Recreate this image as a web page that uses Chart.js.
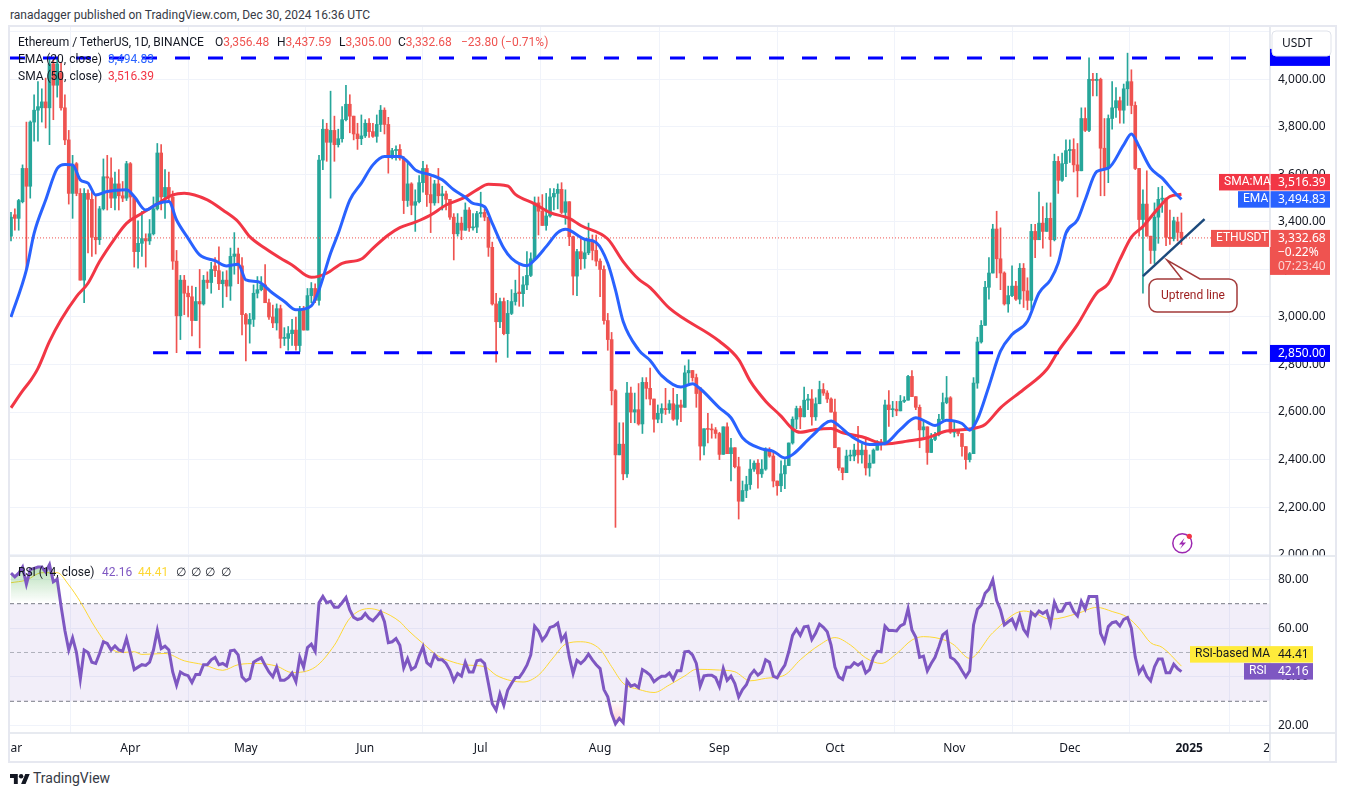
<!DOCTYPE html>
<html>
<head>
<meta charset="utf-8">
<title>Ethereum / TetherUS</title>
<script src="https://cdn.jsdelivr.net/npm/chart.js@4"></script>
<style>
  html, body { margin: 0; background: #fff; }
  body { width: 1345px; height: 796px; position: relative; overflow: hidden;
         font-family: Roboto, sans-serif; font-size: 12px; color: #131722; }
  #frame { position: absolute; left: 8px; top: 25px; width: 1325px; height: 734px; border: 2px solid #e6e8f0; }
  #chart { position: absolute; left: 10px; top: 27px; }
  .t { position: absolute; white-space: pre; line-height: 16px; }
  .red { color: #ef5350; } .blue { color: #2962ff; } .sma { color: #f23645; }
  .purple { color: #7e57c2; } .yellow { color: #fdd835; }
  svg { position: absolute; }
</style>
</head>
<body>
<div id="frame"></div>
<canvas id="chart" width="1325" height="734"></canvas>

<div class="t" style="left:10px;top:7px;color:#363a45">ranadagger published on TradingView.com, Dec 30, 2024 16:36 UTC</div>
<div class="t" style="left:18px;top:34px">Ethereum / TetherUS, 1D, BINANCE</div>
<div class="t" style="left:215px;top:34px">O<span class="red">3,356.48</span></div>
<div class="t" style="left:277px;top:34px">H<span class="red">3,437.59</span></div>
<div class="t" style="left:339px;top:34px">L<span class="red">3,305.00</span></div>
<div class="t" style="left:398px;top:34px">C<span class="red">3,332.68</span></div>
<div class="t red" style="left:461px;top:34px">−23.80 (−0.71%)</div>
<div class="t" style="left:18px;top:51px">EMA (20, close)</div>
<div class="t blue" style="left:108px;top:51px">3,494.83</div>
<div class="t" style="left:18px;top:68px">SMA (50, close)</div>
<div class="t sma" style="left:108px;top:68px">3,516.39</div>
<div class="t" style="left:18px;top:564px">RSI (14, close)</div>
<div class="t purple" style="left:102px;top:564px">42.16</div>
<div class="t yellow" style="left:138px;top:564px">44.41</div>
<div class="t" style="left:176px;top:564px">∅</div>
<div class="t" style="left:191px;top:564px">∅</div>
<div class="t" style="left:205px;top:564px">∅</div>
<div class="t" style="left:221px;top:564px">∅</div>

<svg style="left:10px;top:772px" width="20" height="14" viewBox="0 3 36 20"><path fill="#131722" d="M14 22H7V11H0V4h14v18zM28 22h-8l7.5-18h8L28 22z"/><circle fill="#131722" cx="20" cy="8" r="4"/></svg>
<div class="t" style="left:33px;top:770px;font-size:14px;color:#363a45">TradingView</div>

<svg style="left:1170px;top:531px" width="26" height="26" viewBox="0 0 26 26">
  <circle cx="12.3" cy="12.3" r="9.5" fill="#fff" stroke="#9c27b0" stroke-width="1.5"/>
  <path d="M14.5 7 L9 13.5 H12.5 L10 18 L16 11.5 H12.5 Z" fill="#9c27b0"/>
  <circle cx="19.3" cy="5.3" r="2.6" fill="#f23645"/>
</svg>

<script>
// Daily candles, 1 Mar 2024 (day 0) to 30 Dec 2024 (day 304)
const opens = [3340,3430,3415,3485,3625,3550,3820,3870,3880,3905,3880,4065,3975,4025,3880,3745,3520,3645,3520,3155,3520,3495,3335,3325,3455,3590,3585,3500,3560,3510,3500,3645,3505,3275,3310,3330,3320,3350,3455,3690,3505,3545,3505,3235,3005,3155,3100,3085,2985,3065,3055,3155,3145,3215,3195,3140,3155,3130,3255,3265,3215,3010,2970,2990,3100,3115,3135,3060,3000,2975,3035,2910,2910,2930,2945,2880,3030,2945,3090,3120,3070,3660,3790,3735,3785,3725,3750,3830,3895,3845,3770,3750,3762,3815,3780,3760,3810,3870,3810,3670,3700,3705,3668,3490,3560,3470,3485,3565,3625,3515,3480,3560,3510,3518,3495,3420,3350,3395,3365,3450,3375,3378,3435,3440,3420,3293,3055,2980,3065,2930,3015,3065,3105,3098,3135,3175,3245,3480,3445,3385,3425,3505,3520,3537,3440,3485,3338,3172,3275,3245,3270,3320,3280,3235,3200,2985,2905,2690,2420,2465,2340,2680,2600,2610,2550,2725,2700,2655,2570,2595,2615,2610,2635,2570,2630,2620,2765,2775,2745,2702,2457,2530,2527,2525,2510,2422,2538,2425,2450,2370,2225,2270,2295,2360,2385,2340,2360,2443,2415,2310,2290,2340,2375,2470,2570,2615,2580,2650,2655,2580,2635,2695,2680,2655,2600,2450,2365,2345,2415,2415,2440,2420,2440,2365,2385,2440,2475,2470,2630,2610,2612,2605,2645,2650,2750,2665,2620,2525,2538,2430,2485,2505,2570,2640,2660,2515,2525,2510,2455,2400,2425,2722,2895,2965,3125,3185,3370,3245,3185,3055,3090,3130,3075,3205,3110,3070,3360,3325,3395,3360,3415,3325,3655,3575,3645,3700,3705,3640,3615,3835,3785,4000,3995,4000,3710,3625,3835,3880,3910,3870,3960,3990,3890,3625,3410,3475,3340,3280,3420,3495,3500,3335,3330,3400,3356.48];
const highs = [3440,3455,3495,3640,3820,3825,3935,3990,3960,4005,4095,4085,4090,4070,3935,3785,3680,3650,3540,3540,3535,3535,3515,3465,3665,3680,3670,3610,3620,3570,3655,3650,3510,3405,3445,3350,3410,3505,3730,3725,3620,3610,3530,3280,3175,3175,3130,3130,3125,3200,3175,3190,3230,3250,3295,3190,3195,3290,3355,3290,3250,3015,3015,3135,3170,3170,3220,3075,3050,3055,3050,2955,2960,2990,3000,3045,3045,3120,3145,3140,3680,3830,3815,3950,3845,3790,3885,3975,3935,3845,3815,3850,3830,3835,3815,3850,3890,3880,3840,3710,3720,3725,3675,3655,3565,3535,3595,3655,3640,3590,3575,3625,3550,3530,3495,3435,3435,3420,3480,3460,3435,3445,3525,3455,3420,3315,3100,3080,3080,3070,3115,3155,3220,3170,3275,3270,3505,3505,3515,3520,3540,3540,3560,3565,3535,3485,3340,3285,3330,3325,3395,3345,3345,3245,3215,3015,2935,2695,2555,2555,2725,2705,2680,2720,2745,2745,2785,2655,2630,2635,2700,2650,2700,2675,2650,2795,2820,2775,2760,2702,2530,2595,2550,2535,2515,2538,2555,2490,2450,2410,2310,2330,2400,2395,2400,2400,2450,2450,2430,2310,2395,2400,2470,2580,2625,2625,2705,2675,2695,2660,2730,2720,2690,2660,2655,2450,2365,2440,2440,2465,2540,2465,2495,2420,2445,2480,2485,2650,2690,2645,2645,2670,2665,2755,2775,2665,2630,2560,2538,2510,2515,2590,2680,2750,2665,2560,2525,2510,2455,2430,2745,2915,2985,3150,3250,3390,3445,3375,3190,3130,3215,3150,3225,3225,3165,3390,3390,3525,3465,3480,3480,3685,3675,3690,3745,3745,3750,3730,3880,3880,4090,4025,4025,4005,3835,3850,3990,3965,3925,3980,4110,4040,3905,3625,3535,3615,3340,3480,3545,3550,3500,3450,3420,3420,3437.59];
const lows = [3320,3365,3365,3480,3200,3500,3740,3740,3820,3795,3725,3830,3925,3870,3725,3475,3415,3510,3155,3060,3270,3255,3265,3305,3450,3450,3460,3450,3450,3485,3490,3415,3210,3205,3255,3210,3305,3345,3450,3450,3415,3490,3200,2850,2905,3010,3000,2920,2985,2870,3050,3120,3100,3170,3115,3040,3085,3070,3180,3140,2925,2815,2890,2960,3080,3110,3060,2990,2955,2945,2870,2880,2860,2880,2860,2855,2945,2945,3060,3060,3050,3620,3655,3500,3655,3715,3735,3825,3775,3745,3705,3725,3755,3755,3755,3735,3780,3770,3605,3665,3660,3660,3435,3465,3430,3360,3480,3525,3465,3355,3470,3480,3450,3450,3410,3240,3340,3325,3365,3360,3365,3355,3420,3405,3255,3050,2810,2955,2925,2830,3010,3050,3045,3045,3115,3170,3240,3345,3385,3365,3420,3450,3455,3435,3390,3300,3093,3090,3200,3205,3262,3240,3215,3085,2970,2860,2630,2115,2420,2315,2325,2555,2555,2545,2510,2655,2630,2515,2555,2555,2590,2595,2565,2545,2560,2620,2720,2730,2620,2398,2420,2470,2490,2490,2400,2422,2425,2310,2365,2150,2225,2240,2275,2350,2280,2325,2355,2410,2285,2250,2265,2278,2375,2465,2530,2530,2580,2610,2545,2565,2635,2670,2640,2600,2450,2355,2315,2345,2395,2395,2385,2385,2335,2330,2385,2440,2440,2470,2540,2580,2585,2605,2640,2650,2665,2610,2450,2495,2380,2430,2480,2500,2565,2635,2510,2495,2500,2415,2360,2390,2425,2700,2890,2965,3075,3185,3165,3115,3050,3020,3085,3070,3055,3040,3030,3030,3250,3325,3290,3360,3255,3320,3520,3570,3590,3650,3610,3505,3615,3780,3780,3930,3930,3510,3510,3565,3790,3840,3815,3815,3890,3855,3620,3340,3100,3340,3225,3225,3310,3440,3300,3305,3320,3320,3305];
const closes = [3420,3415,3490,3625,3550,3820,3870,3885,3905,3880,4065,3975,4065,3880,3745,3520,3640,3520,3155,3520,3495,3335,3325,3455,3590,3585,3500,3560,3510,3500,3645,3505,3275,3310,3330,3320,3350,3455,3690,3505,3545,3505,3235,3005,3155,3100,3085,2985,3065,3055,3155,3145,3200,3195,3140,3155,3130,3255,3265,3215,3010,2970,2990,3100,3115,3135,3060,3000,2975,3035,2910,2910,2930,2945,2880,3030,2945,3090,3120,3070,3660,3790,3735,3785,3725,3750,3830,3895,3845,3770,3750,3762,3815,3780,3760,3810,3870,3810,3670,3700,3705,3668,3490,3560,3470,3485,3565,3625,3515,3480,3560,3510,3518,3495,3420,3350,3395,3365,3450,3375,3378,3435,3440,3420,3293,3055,2980,3065,2930,3015,3065,3100,3098,3135,3175,3245,3480,3445,3385,3425,3505,3520,3537,3440,3485,3338,3172,3275,3245,3270,3320,3280,3235,3200,2985,2905,2690,2420,2465,2340,2680,2600,2610,2550,2725,2700,2655,2570,2595,2615,2610,2635,2570,2630,2620,2765,2775,2745,2678,2457,2530,2527,2525,2510,2422,2538,2425,2450,2370,2225,2270,2295,2360,2385,2340,2360,2443,2415,2310,2290,2340,2375,2470,2570,2615,2580,2650,2655,2580,2635,2695,2680,2655,2600,2450,2365,2345,2415,2415,2440,2420,2440,2365,2385,2440,2475,2470,2630,2610,2612,2605,2645,2650,2750,2665,2620,2525,2538,2430,2485,2505,2570,2640,2660,2515,2525,2510,2455,2400,2425,2722,2895,2965,3125,3185,3370,3245,3185,3055,3090,3130,3075,3205,3110,3070,3360,3325,3395,3360,3415,3325,3655,3575,3645,3700,3705,3640,3615,3835,3785,4000,3995,4000,3710,3625,3835,3880,3910,3870,3960,3990,3890,3625,3410,3475,3340,3280,3420,3495,3500,3335,3330,3405,3356,3332.68];

// EMA 20 / SMA 50
const emaDays = [0,4,6,9,12,14,16,18,20,22,25,30,32,35,38,41,43,46,49,53,56,59,61,64,68,71,74,78,80,83,85,88,91,94,97,101,103,105,109,112,115,118,120,123,125,128,130,134,136,139,142,144,149,152,155,157,159,163,166,169,174,177,179,184,187,190,195,198,201,203,208,213,215,218,223,227,231,235,238,240,243,247,249,251,254,257,260,264,267,270,272,274,277,279,282,285,289,291,293,296,299,302,304];
const emaValues = [3000,3198,3352,3492,3625,3642,3640,3577,3563,3513,3528,3535,3507,3450,3476,3486,3408,3331,3261,3237,3215,3222,3156,3149,3100,3065,3030,3047,3114,3268,3352,3492,3563,3640,3675,3675,3654,3619,3598,3577,3535,3504,3478,3464,3394,3289,3247,3216,3240,3296,3355,3369,3327,3313,3226,3114,2981,2862,2817,2753,2705,2719,2698,2618,2576,2492,2445,2435,2407,2421,2499,2562,2543,2501,2464,2468,2527,2576,2557,2543,2566,2552,2524,2569,2709,2856,2926,2982,3101,3157,3227,3353,3409,3493,3612,3626,3724,3770,3717,3626,3584,3528,3494.83];
const smaDays = [0,3,5,7,10,13,17,20,23,27,30,34,39,42,45,51,55,59,62,66,70,73,78,82,86,91,94,98,101,105,109,113,118,121,124,129,131,136,140,145,148,155,159,163,166,171,184,189,192,196,200,203,205,209,213,216,221,227,233,238,243,249,253,257,263,269,272,277,282,285,288,291,294,298,301,304];
const smaValues = [2618,2689,2731,2784,2897,2988,3086,3142,3233,3331,3394,3436,3486,3514,3521,3493,3450,3401,3338,3289,3247,3219,3167,3184,3226,3244,3289,3345,3376,3399,3429,3471,3504,3535,3558,3551,3516,3476,3439,3415,3385,3328,3233,3159,3124,3037,2898,2821,2730,2646,2583,2529,2515,2527,2531,2513,2496,2466,2478,2492,2520,2529,2548,2618,2695,2779,2856,2968,3101,3140,3241,3336,3381,3458,3507,3516.39];

// RSI 14, one value per candle, and its moving average
const rsiValues = [82.5,81,82.5,85,78,84,84.5,85,85,83,86,79,80,69,59,51,56,50,39,51,50,46,45.5,49.6,54.4,53.7,51,52.7,51,50.5,55.7,49.6,43,44,45,44.7,46,51,59,51.6,52.6,51,42,36.6,42,41,40.5,37.7,41,41,45,45,47,48,45,45.5,44.5,50.7,51,49,40,38.4,39.3,46,47,47.8,44.8,42,40,44,38.6,38.6,39.7,41.6,38,48,44,52,53.4,50.5,70.4,73,70.4,71,68.5,68.5,70.4,72.5,67.4,64.4,63.5,64,66,64,63,64.7,66.7,62.6,54,54.4,55.7,53,43.7,47.5,43,44,48.5,52.3,45.8,44.5,49,47,47,45.5,42.7,38.4,41.4,40.3,46,42,42,46.6,47,45.5,37.3,29,26.4,33,28.4,34.5,37.3,39.7,39.7,42,44.8,49,60.8,58.8,55,57,60.3,60.8,62,55,57.4,48.2,41.4,46.8,45.5,47,49.3,47,45,43.4,34.8,31.8,25,20.8,23,21.2,38.4,36.2,36.8,35.6,43,42,40.7,38,39.3,40.3,40.3,41.6,38.9,42.5,42.5,50.3,50.5,49,45.5,36.2,40.4,40.7,40.7,39.7,36,43.4,38.6,40.3,37.3,31.8,34.8,36.8,40.7,42.7,40.7,42,47,46,40.3,39.6,42.5,44.8,50.3,57,59.5,57,60.5,60.8,55.3,58,61.6,60.3,58.5,53,44,40,39,44,44,45.8,44.8,46,41.6,43,48,50.5,50.3,60.8,59,59,58.8,60.9,61.7,67.9,59.2,56.2,48,48.5,42.5,45.5,48,52.4,57.2,58.5,48,47.1,45.2,42.5,40,42.5,61.3,67.7,69.5,74.3,76,79.8,71.3,67.4,61.3,62.6,63.7,60.2,65,59.5,57.2,66.4,65,67,66,67,61.6,70.6,66.8,67,70,70.2,66.8,65,70.9,67.8,72.9,72.9,72.9,57.8,54.4,60.6,62.2,62.6,60.9,63.6,64.3,59.9,48.2,41.7,44.1,40.3,38.4,44.1,47.3,47.3,41.7,41.7,45.2,43.4,42.16];
const rsiMaDays = [0,4,8,12,15,18,22,26,29,32,34,40,45,50,55,59,64,69,73,79,84,88,93,96,101,103,107,111,114,118,123,126,130,133,137,141,144,148,153,156,159,163,167,171,175,178,184,188,192,196,201,205,210,214,218,222,226,230,234,237,243,245,249,255,263,266,270,277,282,286,290,293,296,299,304];
const rsiMaValues = [78.6,79.7,82.7,82.7,77.7,70.8,59.9,51.6,50,50.3,49.2,49.6,46.6,45,42.7,45,45.5,44.4,41.8,44,53,64,68,67,62.6,59.3,53.7,48.5,46.5,44.9,44.2,40.7,38.4,37.9,40.7,48.2,53.4,54.4,51.3,44.2,37.4,34.9,33.6,36.7,40.4,43.1,42.8,42.1,38.4,39.4,40.8,47,53.1,56.1,53.1,47.8,45.5,49.5,55.1,56.5,54.8,53,47.6,58.1,67,66,63.6,66,68.5,66.8,64.4,59.9,54,52.1,44.41];

// Axis ticks
const tickDays = [0,31,61,92,122,153,184,214,245,275,306,327];
const tickLabels = ["Mar","Apr","May","Jun","Jul","Aug","Sep","Oct","Nov","Dec","2025","20"];
const priceTicks = [2000,2200,2400,2600,2800,3000,3200,3400,3600,3800,4000,4200];
const rsiTicks = [20,40,60,80];

// Drawn levels
const resistanceLevel = 4090;
const supportLevel = 2850;
const lastClose = 3332.68;
const lastSma = 3516.39;
const lastEma = 3494.83;
const lastRsi = 42.16;
const lastRsiMa = 44.41;
const trendDays = [294, 310];
const trendPrices = [3172, 3412];

const UP = "#26a69a";
const DOWN = "#ef5350";
const X_MIN = -0.26;
const X_MAX = 327;

const days = closes.map((_, i) => i);
const candleColors = closes.map((c, i) => (c >= opens[i] ? UP : DOWN));
const zip = (xs, ys) => xs.map((x, i) => ({ x: x, y: ys[i] }));
const flat = (from, to, y) => [{ x: from, y: y }, { x: to, y: y }];
const money = (v) => v.toLocaleString("en-US", { minimumFractionDigits: 2, maximumFractionDigits: 2 });
const fitAxis = (scale) => {
  scale.width = 65;
  scale.paddingTop = 0;
  scale.paddingBottom = 0;
};

const VALUE_FONT = '12px "Noto Sans", sans-serif';
const LABEL_FONT = "12px Roboto, sans-serif";

Chart.defaults.font.family = '"Noto Sans", sans-serif';
Chart.defaults.font.size = 12;
Chart.defaults.color = "#131722";

const ctx = document.getElementById("chart").getContext("2d");

const overbought = ctx.createLinearGradient(0, 536, 0, 576);
overbought.addColorStop(0, "rgba(76,175,80,0.45)");
overbought.addColorStop(1, "rgba(76,175,80,0)");
const oversold = ctx.createLinearGradient(0, 673, 0, 698);
oversold.addColorStop(0, "rgba(255,82,82,0)");
oversold.addColorStop(1, "rgba(255,82,82,0.3)");

function badge(c, y, top, h, label, value, bg, fg, fromX, toX, axisX) {
  c.fillStyle = bg;
  c.fillRect(fromX, y + top, toX - fromX, h);
  c.fillStyle = fg;
  c.textBaseline = "middle";
  c.textAlign = "left";
  c.font = LABEL_FONT;
  if (label) c.fillText(label, fromX + 5, y + top + h / 2);
  c.font = VALUE_FONT;
  c.fillText(value, axisX + 8, y + top + h / 2);
}

// Everything the library has no element for: panel rules, price tags, USDT button, callout
const overlay = {
  id: "overlay",
  afterDraw(chart) {
    const c = chart.ctx;
    const price = chart.scales.y;
    const osc = chart.scales.rsi;
    const ox = 10;
    const oy = 27;
    const axisX = 1270 - ox;
    c.save();
    c.font = VALUE_FONT;

    // clip the axis labels that run over the panel borders
    c.fillStyle = "#fff";
    c.fillRect(axisX, 0, 65, 6);
    c.fillRect(axisX, 556 - oy, 65, 6);
    c.fillRect(axisX, 733 - oy, 65, 28);

    c.strokeStyle = "#e0e3eb";
    c.lineWidth = 1.5;
    c.beginPath();
    c.moveTo(0, 556 - oy); c.lineTo(1325, 556 - oy);
    c.moveTo(0, 733 - oy); c.lineTo(1325, 733 - oy);
    c.moveTo(axisX, 0); c.lineTo(axisX, 734);
    c.stroke();

    // USDT button with the resistance tag behind it
    const resY = price.getPixelForValue(resistanceLevel);
    c.fillStyle = "#0000ff";
    c.fillRect(axisX, resY - 9, 60, 17);
    c.fillStyle = "#fff";
    c.strokeStyle = "#e0e3eb";
    c.lineWidth = 1;
    c.beginPath();
    c.roundRect(1272 - ox, 31 - oy, 59, 25, 4);
    c.fill();
    c.stroke();
    c.fillStyle = "#131722";
    c.textAlign = "left";
    c.textBaseline = "middle";
    c.fillText("USDT", 1282 - ox, 44 - oy);

    const smaY = price.getPixelForValue(lastSma);
    const emaY = price.getPixelForValue(lastEma);
    const closeY = price.getPixelForValue(lastClose);
    const supY = price.getPixelForValue(supportLevel);
    badge(c, smaY, -20.3, 16.5, "SMA:MA", money(lastSma), "#f23645", "#fff", 1219 - ox, 1330 - ox, axisX);
    badge(c, emaY, -8.2, 16.5, "EMA", money(lastEma), "#2962ff", "#fff", 1238 - ox, 1330 - ox, axisX);
    badge(c, closeY, -8, 17, "ETHUSDT", money(lastClose), DOWN, "#fff", 1211 - ox, 1269 - ox, axisX - 1);
    c.fillStyle = DOWN;
    c.fillRect(axisX, closeY - 8, 60, 45);
    c.fillStyle = "#fff";
    c.fillText(money(lastClose), axisX + 8, closeY + 0.5);
    c.fillText("−0.22%", axisX + 8, closeY + 14.5);
    c.fillStyle = "rgba(255,255,255,0.75)";
    c.fillText("07:23:40", axisX + 8, closeY + 28.5);
    badge(c, supY, -7.7, 17, "", money(supportLevel), "#0000ff", "#fff", axisX, 1330 - ox, axisX);
    c.strokeStyle = "#fff";
    c.lineWidth = 1;
    c.beginPath();
    c.moveTo(axisX, 174 - oy); c.lineTo(axisX, 208 - oy);
    c.moveTo(axisX, 230 - oy); c.lineTo(axisX, 247 - oy);
    c.stroke();

    const maY = osc.getPixelForValue(lastRsiMa);
    const rsiY = osc.getPixelForValue(lastRsi);
    badge(c, maY, -20, 16.5, "RSI-based MA", money(lastRsiMa), "#ffeb3b", "#131722", 1190 - ox, 1313 - ox, axisX);
    badge(c, rsiY, -8.5, 16.5, "RSI", money(lastRsi), "#7e57c2", "#fff", 1244 - ox, 1313 - ox, axisX);

    // callout
    c.beginPath();
    c.moveTo(1157 - ox, 279 - oy);
    c.lineTo(1182 - ox, 279 - oy);
    c.lineTo(1167 - ox, 260 - oy);
    c.lineTo(1200 - ox, 279 - oy);
    c.lineTo(1229 - ox, 279 - oy);
    c.arcTo(1237 - ox, 279 - oy, 1237 - ox, 287 - oy, 8);
    c.lineTo(1237 - ox, 304 - oy);
    c.arcTo(1237 - ox, 312 - oy, 1229 - ox, 312 - oy, 8);
    c.lineTo(1157 - ox, 312 - oy);
    c.arcTo(1149 - ox, 312 - oy, 1149 - ox, 304 - oy, 8);
    c.lineTo(1149 - ox, 287 - oy);
    c.arcTo(1149 - ox, 279 - oy, 1157 - ox, 279 - oy, 8);
    c.closePath();
    c.fillStyle = "#fff";
    c.fill();
    c.strokeStyle = "#a33a3a";
    c.lineWidth = 1.5;
    c.stroke();
    c.fillStyle = "#9c1c1c";
    c.textAlign = "center";
    c.font = LABEL_FONT;
    c.fillText("Uptrend line", 1193 - ox, 295.5 - oy);
    c.restore();
  },
};

new Chart(ctx, {
  plugins: [overlay],
  data: {
    datasets: [
      // RSI panel
      { type: "line", yAxisID: "rsi", order: 30, data: flat(X_MIN, X_MAX, 70), borderColor: "#787b86", borderWidth: 1, borderDash: [4, 3], pointRadius: 0, backgroundColor: "rgba(126,87,194,0.1)", fill: { value: 30 } },
      { type: "line", yAxisID: "rsi", order: 29, data: flat(X_MIN, X_MAX, 50), borderColor: "rgba(120,123,134,0.55)", borderWidth: 1, borderDash: [4, 3], pointRadius: 0 },
      { type: "line", yAxisID: "rsi", order: 29, data: flat(X_MIN, X_MAX, 30), borderColor: "#787b86", borderWidth: 1, borderDash: [4, 3], pointRadius: 0 },
      { type: "line", yAxisID: "rsi", order: 28, data: zip(days, rsiValues), borderWidth: 0, pointRadius: 0, fill: { target: { value: 30 }, above: "transparent", below: oversold } },
      { type: "line", yAxisID: "rsi", order: 2, data: zip(rsiMaDays, rsiMaValues), borderColor: "#fdd835", borderWidth: 1, pointRadius: 0, cubicInterpolationMode: "monotone" },
      { type: "line", yAxisID: "rsi", order: 1, data: zip(days, rsiValues), borderColor: "#7e57c2", borderWidth: 3, pointRadius: 0, fill: { target: { value: 70 }, above: overbought, below: "transparent" } },

      // price panel
      { type: "bar", yAxisID: "y", order: 21, grouped: false, barThickness: 1, minBarLength: 1, data: days.map((d) => ({ x: d, y: [lows[d], highs[d]] })), backgroundColor: candleColors },
      { type: "bar", yAxisID: "y", order: 20, grouped: false, barThickness: 3, minBarLength: 1, data: days.map((d) => ({ x: d, y: [opens[d], closes[d]] })), backgroundColor: candleColors },
      { type: "line", yAxisID: "y", order: 12, data: flat(X_MIN, X_MAX, lastClose), borderColor: DOWN, borderWidth: 1, borderDash: [1, 2], pointRadius: 0 },
      { type: "line", yAxisID: "y", order: 11, data: zip(smaDays, smaValues), borderColor: "#f23645", borderWidth: 3, pointRadius: 0, cubicInterpolationMode: "monotone" },
      { type: "line", yAxisID: "y", order: 10, data: zip(emaDays, emaValues), borderColor: "#2962ff", borderWidth: 3, pointRadius: 0, cubicInterpolationMode: "monotone" },
      { type: "line", yAxisID: "y", order: 5, data: flat(X_MIN, 324, resistanceLevel), borderColor: "#0000ff", borderWidth: 3, borderDash: [15, 18], pointRadius: 0 },
      { type: "line", yAxisID: "y", order: 5, data: flat(36.9, 324, supportLevel), borderColor: "#0000ff", borderWidth: 3, borderDash: [15, 18], pointRadius: 0 },
      { type: "line", yAxisID: "y", order: 4, data: zip(trendDays, trendPrices), borderColor: "#1c4a7c", borderWidth: 2.5, pointRadius: 0 },
    ],
  },
  options: {
    responsive: false,
    animation: false,
    events: [],
    layout: { padding: 0 },
    plugins: { legend: { display: false }, tooltip: { enabled: false } },
    scales: {
      x: {
        type: "linear",
        offset: false,
        min: X_MIN,
        max: X_MAX,
        border: { display: false },
        grid: { color: "#f0f3fa", drawTicks: false },
        afterBuildTicks(scale) {
          scale.ticks = tickDays.map((d) => ({ value: d }));
        },
        afterFit(scale) {
          scale.height = 28;
          scale.paddingLeft = 0;
          scale.paddingRight = 0;
        },
        ticks: {
          autoSkip: false,
          maxRotation: 0,
          minRotation: 0,
          padding: 8,
          callback: (value, index) => tickLabels[index],
          font: (c) => ({ size: 12, weight: c.tick && c.tick.label === "2025" ? "bold" : "normal" }),
        },
      },
      y: {
        type: "linear",
        position: "right",
        stack: "panels",
        stackWeight: 529,
        weight: 0,
        min: 1994.5,
        max: 4220,
        border: { display: false },
        grid: { color: "#f0f3fa", drawTicks: false },
        afterBuildTicks(scale) {
          scale.ticks = priceTicks.map((v) => ({ value: v }));
        },
        afterFit: fitAxis,
        ticks: { padding: 8, callback: (v) => money(v) },
      },
      rsi: {
        type: "linear",
        position: "right",
        stack: "panels",
        stackWeight: 177,
        weight: 1,
        min: 17,
        max: 89.55,
        border: { display: false },
        grid: { color: "#f0f3fa", drawTicks: false },
        afterBuildTicks(scale) {
          scale.ticks = rsiTicks.map((v) => ({ value: v }));
        },
        afterFit: fitAxis,
        ticks: { padding: 8, callback: (v) => money(v) },
      },
    },
  },
});
</script>
</body>
</html>
